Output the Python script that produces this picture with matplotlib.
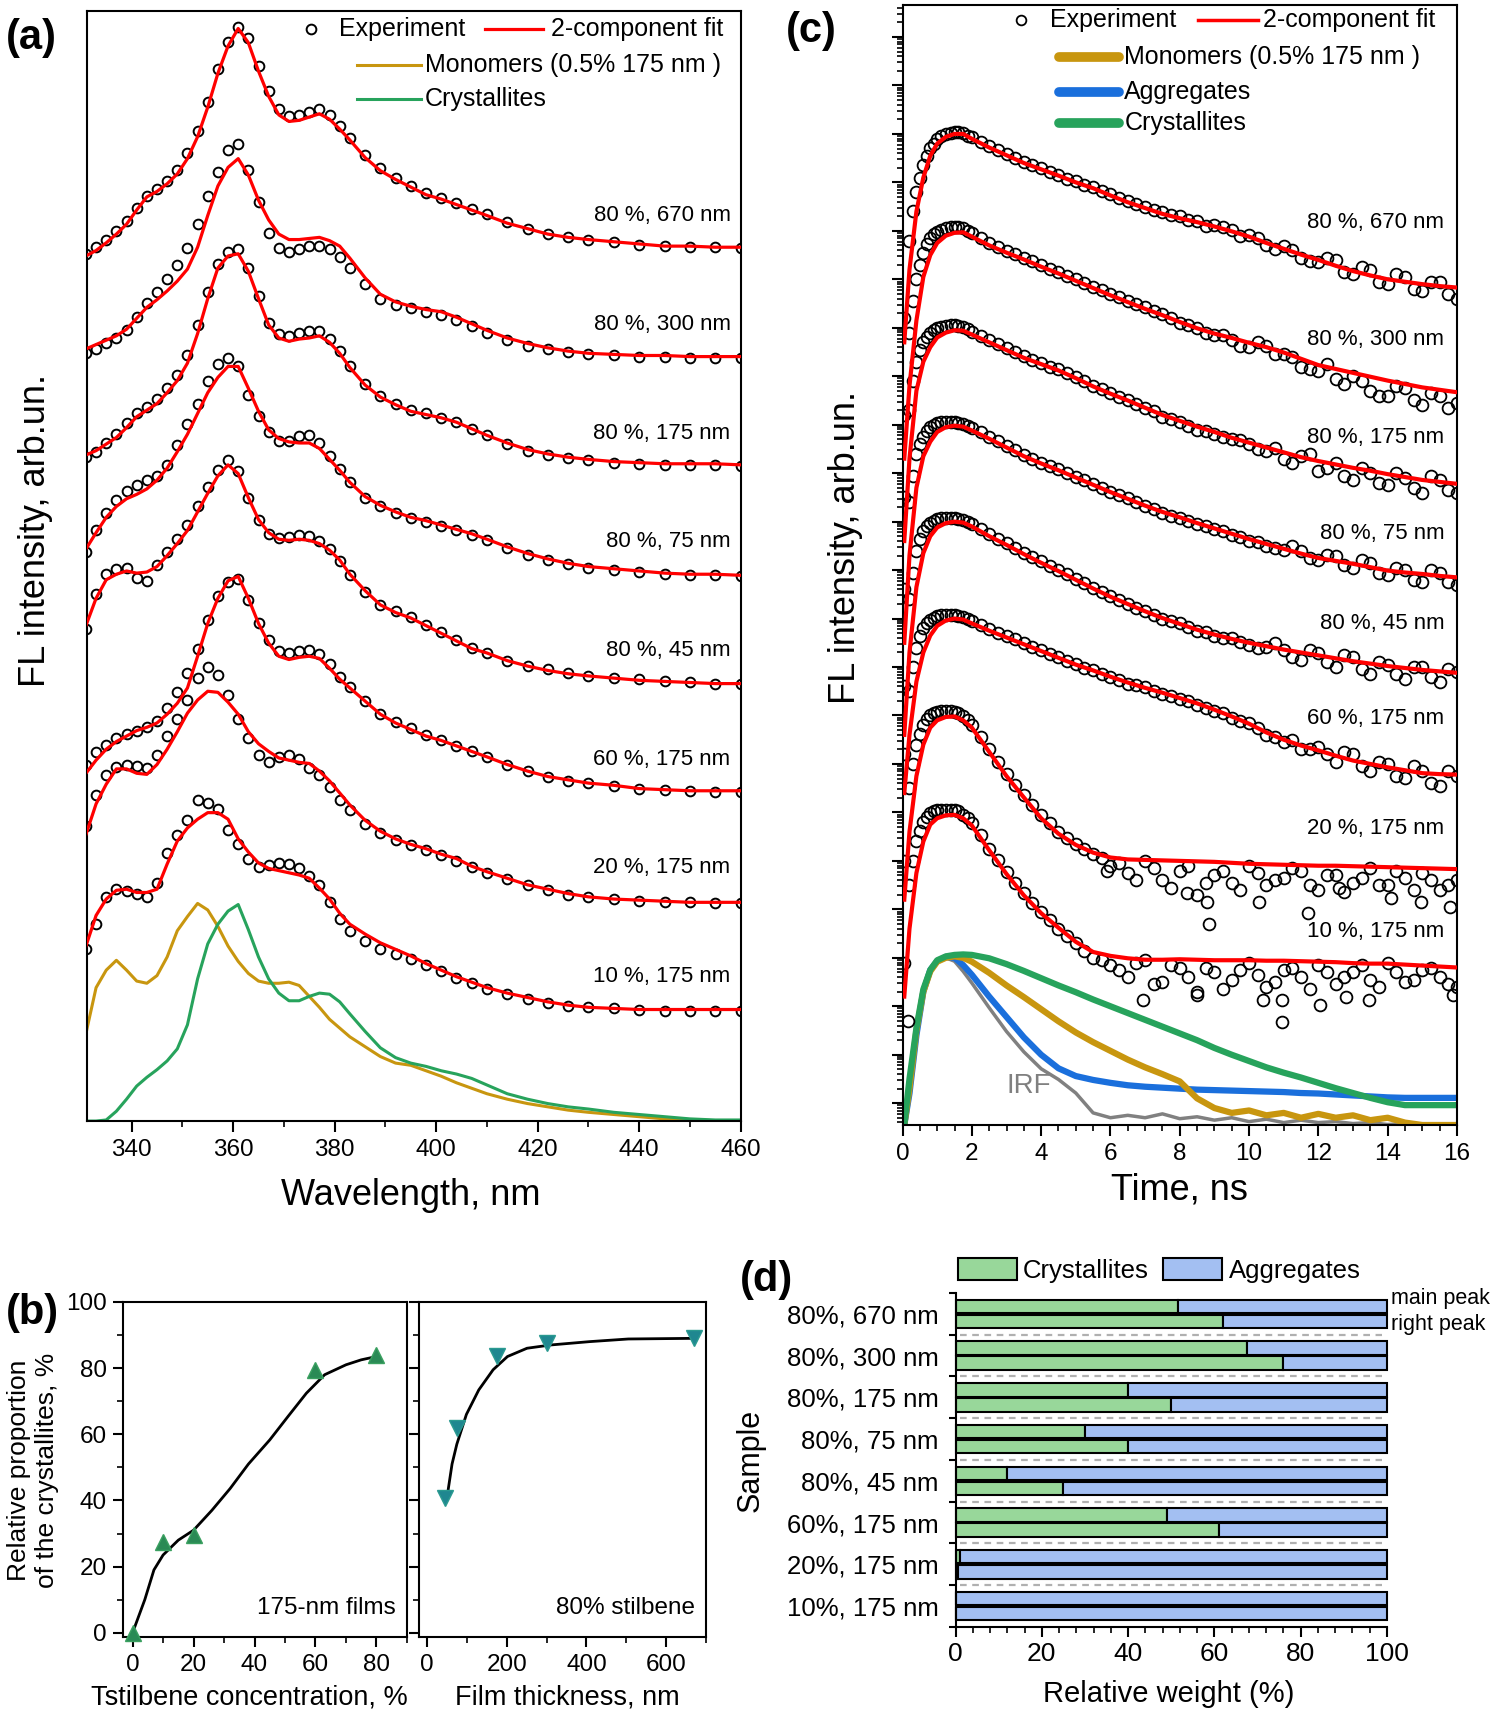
import numpy as np
import matplotlib
matplotlib.use('Agg')
import matplotlib.pyplot as plt
from matplotlib.ticker import MultipleLocator, LogLocator, NullFormatter, FixedLocator
from matplotlib.patches import Patch

plt.rcParams['font.family'] = ['Liberation Sans', 'DejaVu Sans']
plt.rcParams['axes.linewidth'] = 1.5

GOLD = '#c8960f'
GREEN = '#27a35c'
BLUE = '#1a6fdc'
GRAY = '#808080'
RED = '#ff0000'

# ---------------- (a) steady-state spectra (arb. units, stacked) ----------------
wl = [331, 333, 335, 337, 339, 341, 343, 345, 347, 349, 351, 353, 355, 357, 359, 361, 363, 365,
      367, 369, 371, 373, 375, 377, 379, 381, 383, 386, 389, 392, 395, 398, 401, 404, 407, 410,
      414, 418, 422, 426, 430, 435, 440, 445, 450, 455, 460]

exp_670 = [793, 799, 806, 814, 823, 835, 846, 852, 860, 870, 885, 905, 932, 962, 987, 1000, 990, 965,
           942, 925, 919, 920, 923, 925, 920, 910, 899, 883, 871, 862, 855, 849, 844, 839, 834, 829,
           822, 816, 811, 808, 806, 804, 801, 800, 799, 799, 798]
fit_670 = [791, 796, 803, 811, 820, 833, 845, 850, 857, 866, 880, 900, 927, 958, 983, 999, 986, 960,
           937, 920, 914, 915, 918, 921, 916, 907, 897, 881, 869, 861, 854, 847, 843, 838, 833, 828,
           821, 816, 811, 808, 806, 804, 802, 800, 800, 799, 799]
exp_300 = [702, 706, 711, 716, 723, 735, 748, 758, 770, 783, 798, 820, 846, 868, 888, 893, 870, 840,
           812, 798, 795, 797, 800, 800, 797, 790, 780, 765, 752, 746, 743, 740, 737, 732, 727, 721,
           714, 709, 706, 703, 701, 700, 699, 699, 698, 698, 698]
fit_300 = [706, 710, 714, 718, 724, 734, 744, 751, 759, 768, 779, 799, 828, 855, 872, 880, 865, 842,
           824, 811, 806, 806, 807, 808, 805, 800, 789, 771, 756, 749, 745, 742, 740, 735, 729, 723,
           716, 711, 707, 704, 702, 701, 700, 700, 699, 699, 699]
exp_175 = [607, 612, 620, 628, 638, 647, 653, 660, 670, 682, 700, 728, 758, 784, 795, 797, 780, 754,
           730, 720, 718, 721, 722, 722, 715, 704, 690, 674, 663, 656, 650, 647, 643, 639, 633, 627,
           619, 613, 609, 606, 604, 602, 601, 600, 600, 600, 599]
fit_175 = [609, 613, 619, 625, 634, 644, 650, 656, 666, 677, 693, 720, 752, 780, 791, 793, 777, 752,
           728, 716, 713, 715, 716, 718, 712, 702, 689, 673, 662, 655, 649, 646, 643, 639, 633, 627,
           620, 614, 610, 607, 605, 603, 602, 601, 601, 601, 600]
exp_75 = [520, 540, 556, 568, 576, 582, 586, 590, 600, 618, 637, 656, 677, 692, 698, 690, 664, 645,
          630, 622, 622, 626, 627, 620, 608, 596, 584, 570, 562, 556, 551, 548, 544, 540, 536, 531,
          524, 518, 513, 509, 506, 504, 502, 500, 499, 499, 498]
fit_75 = [523, 538, 552, 562, 569, 573, 578, 586, 597, 612, 628, 647, 666, 680, 690, 690, 670, 649,
          632, 624, 621, 620, 620, 615, 605, 595, 584, 571, 563, 557, 552, 549, 545, 541, 537, 532,
          525, 519, 514, 510, 507, 505, 503, 501, 500, 500, 499]
exp_45 = [450, 482, 500, 505, 506, 497, 494, 508, 520, 532, 545, 562, 580, 595, 604, 594, 570, 550,
          537, 533, 534, 536, 535, 530, 523, 512, 499, 484, 472, 466, 461, 454, 447, 440, 433, 428,
          421, 416, 413, 410, 407, 405, 404, 402, 401, 400, 400]
fit_45 = [453, 478, 495, 500, 503, 501, 502, 507, 517, 528, 540, 557, 574, 590, 600, 592, 570, 550,
          538, 532, 531, 532, 531, 528, 522, 513, 500, 485, 472, 465, 460, 453, 446, 439, 432, 428,
          421, 416, 412, 409, 407, 405, 403, 402, 401, 400, 400]
exp_60 = [326, 337, 344, 350, 354, 357, 360, 366, 378, 392, 410, 432, 458, 480, 493, 496, 476, 455,
          440, 430, 428, 430, 431, 427, 418, 406, 397, 384, 372, 365, 359, 353, 348, 343, 338, 333,
          326, 320, 315, 311, 309, 306, 304, 303, 302, 301, 301]
fit_60 = [318, 330, 340, 347, 352, 357, 360, 364, 372, 382, 396, 425, 455, 478, 494, 498, 478, 455,
          437, 425, 422, 424, 425, 423, 414, 404, 396, 384, 372, 364, 358, 352, 348, 343, 338, 333,
          326, 320, 315, 312, 309, 307, 304, 303, 302, 302, 302]
exp_20 = [270, 298, 316, 324, 326, 325, 323, 335, 352, 368, 385, 405, 415, 408, 390, 368, 350, 335,
          328, 333, 335, 331, 323, 316, 305, 294, 284, 272, 263, 257, 252, 248, 243, 238, 232, 227,
          221, 216, 211, 207, 205, 203, 201, 200, 200, 199, 199]
fit_20 = [262, 290, 308, 322, 322, 318, 317, 326, 340, 356, 373, 385, 393, 392, 383, 372, 356, 345,
          338, 332, 330, 328, 327, 320, 311, 300, 289, 275, 265, 258, 253, 249, 244, 240, 233, 228,
          222, 216, 212, 208, 205, 203, 202, 201, 200, 200, 200]
exp_10 = [157, 180, 205, 212, 210, 208, 205, 218, 245, 262, 275, 294, 291, 285, 266, 253, 240, 232,
          234, 236, 235, 231, 224, 216, 200, 185, 174, 165, 157, 153, 148, 143, 137, 131, 126, 121,
          116, 112, 108, 105, 104, 103, 102, 101, 101, 101, 101]
fit_10 = [160, 188, 203, 211, 212, 209, 209, 212, 235, 256, 268, 276, 282, 282, 276, 258, 246, 236,
          231, 229, 227, 225, 222, 213, 203, 190, 180, 171, 163, 157, 151, 144, 138, 132, 127, 122,
          117, 113, 109, 106, 104, 103, 102, 102, 102, 102, 102]
monomers = [80, 122, 138, 147, 138, 128, 126, 133, 150, 174, 187, 199, 193, 178, 160, 146, 135, 128,
            126, 126, 127, 124, 114, 104, 93, 85, 77, 68, 59, 53, 51, 46, 41, 35, 30, 25,
            20, 16, 13, 10, 8, 6, 4, 2, 1, 0, 0]
crystallites = [0, 0, 1, 9, 20, 32, 40, 47, 55, 66, 88, 130, 162, 180, 192, 198, 175, 150,
                130, 117, 110, 110, 114, 117, 116, 109, 98, 82, 67, 58, 53, 50, 46, 43, 39, 33,
                25, 20, 16, 13, 11, 8, 6, 4, 2, 1, 1]

spec_labels = ['80 %, 670 nm', '80 %, 300 nm', '80 %, 175 nm', '80 %, 75 nm',
               '80 %, 45 nm', '60 %, 175 nm', '20 %, 175 nm', '10 %, 175 nm']
spec_exp = [exp_670, exp_300, exp_175, exp_75, exp_45, exp_60, exp_20, exp_10]
spec_fit = [fit_670, fit_300, fit_175, fit_75, fit_45, fit_60, fit_20, fit_10]

# ---------------- (c) decays, log10 of intensity (stacked) ----------------
t = [0.05, 0.2, 0.4, 0.6, 0.8, 1.0, 1.25, 1.5, 1.75, 2.0, 2.5, 3.0, 3.5, 4.0, 4.5, 5.0, 5.5, 6.0,
     6.5, 7.0, 7.5, 8.0, 8.5, 9.0, 9.5, 10.0, 10.5, 11.0, 11.5, 12.0, 12.5, 13.0, 13.5, 14.0,
     14.5, 15.0, 15.5, 16.0]
# experimental points read in between the main grid
t_mid = [0.3, 0.5, 0.7, 0.9, 1.1, 1.4, 1.6, 1.9, 2.25, 2.75, 3.25, 3.75, 4.25, 4.75, 5.25, 5.75,
         6.25, 6.75, 7.25, 7.75, 8.25, 8.75, 9.25, 9.75, 10.25, 10.75, 11.25, 11.75, 12.25, 12.75,
         13.25, 13.75, 14.25, 14.75, 15.25, 15.75]

dexp_670 = [16.2, 17.8, 18.8, 19.35, 19.7, 19.9, 20.0, 20.03, 20.02, 19.93, 19.75, 19.58, 19.43,
            19.29, 19.16, 19.02, 18.9, 18.76, 18.62, 18.5, 18.38, 18.3, 18.2, 18.12, 18.02, 17.92,
            17.7, 17.68, 17.45, 17.35, 17.4, 17.1, 17.2, 16.9, 17.05, 16.75, 16.95, 16.6]
mexp_670 = [18.4, 19.1, 19.55, 19.8, 19.95, 20.02, 20.03, 19.96, 19.83, 19.66, 19.5, 19.35, 19.22,
            19.08, 18.95, 18.82, 18.68, 18.55, 18.43, 18.32, 18.22, 18.1, 18.08, 17.9, 17.85,
            17.62, 17.6, 17.38, 17.45, 17.15, 17.25, 16.95, 17.1, 16.8, 16.95, 16.7]
dfit_670 = [15.7, 17.2, 18.4, 19.1, 19.55, 19.8, 19.94, 20.0, 20.0, 19.9, 19.72, 19.56, 19.4,
            19.27, 19.14, 19.0, 18.88, 18.73, 18.59, 18.47, 18.35, 18.26, 18.18, 18.09, 17.99,
            17.88, 17.75, 17.63, 17.51, 17.4, 17.28, 17.17, 17.08, 17.0, 16.95, 16.9, 16.86, 16.83]
dexp_300 = [14.2, 15.9, 17.0, 17.55, 17.85, 17.98, 18.05, 18.07, 18.05, 17.95, 17.75, 17.59, 17.45,
            17.3, 17.15, 17.0, 16.85, 16.7, 16.56, 16.42, 16.28, 16.1, 16.0, 15.85, 15.75, 15.6,
            15.62, 15.45, 15.2, 15.1, 14.95, 15.0, 14.7, 14.6, 14.75, 14.4, 14.6, 14.45]
mexp_300 = [16.55, 17.3, 17.72, 17.93, 18.02, 18.07, 18.07, 17.99, 17.85, 17.67, 17.52, 17.37,
            17.22, 17.07, 16.92, 16.77, 16.63, 16.49, 16.35, 16.2, 16.05, 15.9, 15.85, 15.62, 15.7,
            15.45, 15.4, 15.15, 15.25, 14.85, 14.9, 14.6, 14.8, 14.5, 14.65, 14.35]
dfit_300 = [13.3, 14.8, 16.15, 17.05, 17.5, 17.75, 17.9, 17.96, 17.97, 17.88, 17.7, 17.55, 17.41,
            17.26, 17.12, 16.97, 16.82, 16.67, 16.53, 16.39, 16.26, 16.12, 15.99, 15.88, 15.79,
            15.69, 15.6, 15.49, 15.36, 15.23, 15.15, 15.07, 14.99, 14.91, 14.84, 14.77, 14.72, 14.67]
dexp_175 = [12.5, 14.3, 15.3, 15.7, 15.9, 16.0, 16.04, 16.05, 16.02, 15.92, 15.74, 15.58, 15.41,
            15.28, 15.14, 14.98, 14.8, 14.66, 14.5, 14.35, 14.15, 14.05, 13.9, 13.8, 13.7, 13.6,
            13.45, 13.3, 13.35, 13.05, 13.2, 12.85, 13.0, 12.75, 12.9, 12.6, 12.85, 12.6]
mexp_175 = [14.9, 15.55, 15.82, 15.96, 16.02, 16.05, 16.04, 15.97, 15.83, 15.66, 15.5, 15.34, 15.2,
            15.06, 14.9, 14.73, 14.58, 14.42, 14.28, 14.12, 13.97, 13.88, 13.75, 13.68, 13.5,
            13.52, 13.2, 13.4, 13.1, 12.95, 13.1, 12.8, 13.0, 12.7, 12.95, 12.65]
dfit_175 = [11.6, 13.3, 14.7, 15.3, 15.6, 15.8, 15.9, 15.95, 15.94, 15.86, 15.7, 15.54, 15.38,
            15.25, 15.12, 14.96, 14.79, 14.64, 14.5, 14.35, 14.2, 14.08, 13.96, 13.85, 13.73,
            13.63, 13.53, 13.43, 13.33, 13.25, 13.18, 13.11, 13.05, 12.98, 12.92, 12.86, 12.82, 12.78]
dexp_75 = [10.6, 12.4, 13.4, 13.75, 13.95, 14.03, 14.06, 14.05, 14.02, 13.93, 13.75, 13.56, 13.38,
           13.22, 13.08, 12.93, 12.78, 12.62, 12.48, 12.33, 12.18, 12.07, 11.95, 11.85, 11.72, 11.6,
           11.5, 11.42, 11.4, 11.2, 11.3, 11.05, 11.15, 10.9, 11.0, 10.75, 10.95, 10.7]
mexp_75 = [12.95, 13.6, 13.87, 14.0, 14.05, 14.06, 14.04, 13.97, 13.84, 13.66, 13.47, 13.3, 13.15,
           13.0, 12.85, 12.7, 12.55, 12.4, 12.26, 12.12, 12.02, 11.9, 11.8, 11.68, 11.58, 11.45,
           11.5, 11.25, 11.32, 11.1, 11.2, 10.95, 11.05, 10.8, 11.0, 10.75]
dfit_75 = [9.5, 11.3, 12.7, 13.35, 13.65, 13.85, 13.95, 13.98, 13.96, 13.88, 13.71, 13.53, 13.35,
           13.2, 13.06, 12.91, 12.76, 12.61, 12.47, 12.33, 12.2, 12.09, 11.97, 11.86, 11.75, 11.64,
           11.54, 11.44, 11.34, 11.25, 11.19, 11.13, 11.06, 10.99, 10.95, 10.92, 10.88, 10.85]
dexp_45 = [8.6, 10.4, 11.4, 11.8, 11.98, 12.05, 12.08, 12.07, 12.04, 11.95, 11.74, 11.55, 11.36,
           11.18, 11.0, 10.82, 10.64, 10.46, 10.3, 10.15, 10.0, 9.9, 9.75, 9.65, 9.6, 9.45, 9.42,
           9.35, 9.15, 9.28, 9.0, 9.2, 8.85, 9.05, 8.75, 9.0, 8.7, 8.9]
mexp_45 = [10.95, 11.65, 11.9, 12.02, 12.07, 12.08, 12.06, 11.99, 11.85, 11.65, 11.45, 11.27,
           11.09, 10.91, 10.73, 10.55, 10.38, 10.22, 10.08, 9.95, 9.82, 9.72, 9.6, 9.52, 9.4, 9.5,
           9.2, 9.35, 9.1, 9.25, 8.95, 9.1, 8.85, 9.0, 8.8, 8.95]
dfit_45 = [7.6, 9.3, 10.65, 11.35, 11.7, 11.88, 11.97, 12.0, 11.98, 11.9, 11.7, 11.52, 11.33,
           11.15, 10.98, 10.8, 10.62, 10.45, 10.3, 10.15, 10.01, 9.89, 9.77, 9.67, 9.58, 9.5, 9.43,
           9.36, 9.3, 9.24, 9.18, 9.12, 9.07, 9.02, 8.98, 8.94, 8.91, 8.88]
dexp_60 = [7.2, 8.5, 9.4, 9.8, 9.98, 10.05, 10.08, 10.07, 10.04, 9.95, 9.78, 9.64, 9.5, 9.35, 9.2,
           9.06, 8.93, 8.8, 8.66, 8.58, 8.45, 8.35, 8.22, 8.1, 7.95, 7.85, 7.6, 7.45, 7.3, 7.35,
           7.05, 7.2, 6.85, 7.0, 6.7, 6.85, 6.55, 6.75]
mexp_60 = [9.0, 9.63, 9.9, 10.02, 10.07, 10.08, 10.06, 9.99, 9.86, 9.71, 9.57, 9.42, 9.27, 9.13,
           8.99, 8.86, 8.73, 8.62, 8.5, 8.4, 8.3, 8.15, 8.05, 7.88, 7.75, 7.55, 7.5, 7.3, 7.2, 7.25,
           6.95, 7.05, 6.75, 6.95, 6.6, 6.85]
dfit_60 = [6.4, 7.6, 8.7, 9.3, 9.65, 9.85, 9.96, 10.0, 9.98, 9.9, 9.75, 9.61, 9.47, 9.33, 9.19,
           9.05, 8.93, 8.8, 8.68, 8.57, 8.47, 8.36, 8.25, 8.12, 7.98, 7.83, 7.65, 7.5, 7.38, 7.28,
           7.17, 7.07, 7.0, 6.93, 6.87, 6.81, 6.79, 6.78]
dexp_20 = [5.0, 6.5, 7.4, 7.8, 8.0, 8.07, 8.1, 8.08, 7.98, 7.8, 7.3, 6.8, 6.35, 5.95, 5.6, 5.35,
           5.15, 4.9, 4.75, 5.0, 4.6, 4.8, 4.3, 4.7, 4.55, 4.9, 4.5, 4.65, 4.8, 4.4, 4.7, 4.55,
           4.85, 4.5, 4.65, 4.75, 4.4, 4.6]
mexp_20 = [7.0, 7.62, 7.92, 8.05, 8.09, 8.1, 8.06, 7.9, 7.56, 7.05, 6.57, 6.15, 5.78, 5.48, 5.25,
           5.05, 4.95, 4.6, 4.85, 4.45, 4.9, 4.55, 4.8, 4.4, 4.75, 4.6, 4.85, 4.5, 4.7, 4.35, 4.65,
           4.5, 4.8, 4.4, 4.6, 4.5]
dfit_20 = [4.2, 5.6, 6.75, 7.4, 7.75, 7.9, 7.97, 7.98, 7.9, 7.75, 7.25, 6.75, 6.31, 5.88, 5.56,
           5.33, 5.17, 5.07, 5.03, 5.02, 5.01, 5.0, 4.99, 4.98, 4.96, 4.94, 4.93, 4.92, 4.91, 4.9,
           4.9, 4.89, 4.88, 4.87, 4.86, 4.85, 4.84, 4.83]
dexp_10 = [2.9, 4.5, 5.4, 5.8, 5.98, 6.04, 6.06, 6.04, 5.95, 5.78, 5.25, 4.78, 4.33, 3.95, 3.6,
           3.3, 3.0, 2.85, 2.6, 2.95, 2.5, 2.8, 2.3, 2.7, 2.55, 2.9, 2.4, 2.75, 2.6, 2.85, 2.45,
           2.7, 2.55, 2.9, 2.5, 2.75, 2.6, 2.4]
mexp_10 = [5.0, 5.62, 5.9, 6.02, 6.06, 6.06, 6.02, 5.88, 5.53, 5.02, 4.55, 4.14, 3.77, 3.45, 3.15,
           2.95, 2.75, 2.9, 2.45, 2.85, 2.6, 2.8, 2.35, 2.75, 2.65, 2.5, 2.8, 2.35, 2.7, 2.6, 2.85,
           2.4, 2.7, 2.55, 2.8, 2.45]
dfit_10 = [2.2, 3.6, 4.75, 5.4, 5.75, 5.88, 5.94, 5.95, 5.88, 5.73, 5.22, 4.73, 4.29, 3.92, 3.62,
           3.33, 3.12, 3.04, 2.99, 2.96, 2.96, 2.97, 2.96, 2.95, 2.95, 2.95, 2.94, 2.94, 2.93, 2.92,
           2.91, 2.89, 2.88, 2.88, 2.86, 2.84, 2.82, 2.8]

# scattered outlier circles in the noisy tails
out20_t = [5.9, 8.2, 8.8, 8.85, 10.3, 11.7, 12.6, 14.1, 14.95, 15.8]
out20_y = [4.79, 4.34, 4.15, 3.7, 4.15, 3.93, 4.45, 4.23, 4.15, 4.04]
out10_t = [0.15, 6.95, 8.5, 10.4, 10.95, 10.95, 12.05, 12.8, 13.45, 15.9]
out10_y = [1.7, 2.13, 2.24, 2.13, 1.68, 2.13, 2.02, 2.2, 2.13, 2.24]

irf = [-0.45, 0.4, 1.5, 2.25, 2.7, 2.92, 3.0, 2.93, 2.72, 2.48, 1.97, 1.48, 1.06, 0.71, 0.49,
       0.21, -0.2, -0.3, -0.25, -0.3, -0.22, -0.32, -0.28, -0.35, -0.3, -0.38, -0.33, -0.4,
       -0.35, -0.4, -0.38, -0.42, -0.4, -0.44, -0.42, -0.45, -0.43, -0.45]
aggr_decay = [-0.45, 0.2, 1.4, 2.3, 2.75, 2.93, 3.02, 3.0, 2.85, 2.65, 2.2, 1.78, 1.36, 1.0, 0.72,
              0.56, 0.48, 0.42, 0.37, 0.34, 0.32, 0.3, 0.28, 0.27, 0.26, 0.25, 0.24, 0.23, 0.21,
              0.2, 0.18, 0.16, 0.14, 0.12, 0.11, 0.11, 0.11, 0.11]
mono_decay = [-0.45, 0.3, 1.5, 2.3, 2.72, 2.92, 3.0, 3.03, 3.0, 2.92, 2.69, 2.43, 2.19, 1.94, 1.69,
              1.46, 1.26, 1.08, 0.9, 0.74, 0.6, 0.45, 0.1, -0.1, -0.2, -0.15, -0.25, -0.2, -0.3,
              -0.22, -0.3, -0.25, -0.35, -0.3, -0.4, -0.45, -0.45, -0.45]
cryst_decay = [-0.45, 0.5, 1.55, 2.35, 2.75, 2.95, 3.03, 3.06, 3.07, 3.06, 2.99, 2.87, 2.73, 2.58,
               2.43, 2.29, 2.14, 2.0, 1.86, 1.72, 1.58, 1.44, 1.3, 1.14, 1.0, 0.87, 0.74, 0.63,
               0.53, 0.42, 0.31, 0.21, 0.11, 0.02, -0.04, -0.04, -0.04, -0.04]

dec_exp = [dexp_670, dexp_300, dexp_175, dexp_75, dexp_45, dexp_60, dexp_20, dexp_10]
dec_mid = [mexp_670, mexp_300, mexp_175, mexp_75, mexp_45, mexp_60, mexp_20, mexp_10]
dec_fit = [dfit_670, dfit_300, dfit_175, dfit_75, dfit_45, dfit_60, dfit_20, dfit_10]

# ---------------- (b) crystallite proportion ----------------
conc = [0, 10, 20, 60, 80]
conc_cryst = [0, 27.5, 29.5, 79.5, 84]
conc_curve_x = [0, 4, 7, 10, 15, 20, 26, 32, 38, 45, 51, 57, 63, 70, 75, 80]
conc_curve_y = [0, 10, 19, 23.5, 28, 31, 37, 43.6, 51, 58.3, 65.4, 72.4, 78, 81, 82.5, 83.5]
thick = [45, 75, 175, 300, 670]
thick_cryst = [40.6, 61.8, 83.7, 87.6, 89.1]
thick_curve_x = [50, 63, 75, 99, 130, 166, 202, 251, 311, 408, 505, 675]
thick_curve_y = [40.6, 51, 57, 66, 73.4, 79.5, 83.5, 86, 87, 88, 88.8, 89]

# ---------------- (d) relative weights ----------------
samples = ['80%, 670 nm', '80%, 300 nm', '80%, 175 nm', '80%, 75 nm',
           '80%, 45 nm', '60%, 175 nm', '20%, 175 nm', '10%, 175 nm']
main_peak_cryst = [51.5, 67.5, 40, 30, 12, 49, 1, 0]
right_peak_cryst = [62, 76, 50, 40, 25, 61, 0.5, 0]

fig = plt.figure(figsize=(15, 17.16), dpi=100)


def style_ticks(ax, major=8, minor=4):
    ax.tick_params(which='major', direction='out', length=major, width=1.5, labelsize=17.5, pad=5)
    ax.tick_params(which='minor', direction='out', length=minor, width=1.2)


# ===== panel (a) =====
ax_a = fig.add_axes([0.0583, 0.3467, 0.4355, 0.6469])
for e, f in zip(spec_exp, spec_fit):
    ax_a.plot(wl, e, 'o', mfc='none', mec='black', ms=7, mew=1.4, zorder=2)
    ax_a.plot(wl, f, color=RED, lw=2.3, zorder=3)
ax_a.plot(wl, monomers, color=GOLD, lw=2.2)
ax_a.plot(wl, crystallites, color=GREEN, lw=2.2)
label_y = [828, 728, 629, 530, 430, 331, 232, 132]
for lab, yy in zip(spec_labels, label_y):
    ax_a.text(458, yy, lab, ha='right', va='center', fontsize=16)
ax_a.set_xlim(331.3, 460)
ax_a.set_ylim(0, 1015)
ax_a.set_yticks([])
ax_a.xaxis.set_major_locator(MultipleLocator(20))
ax_a.xaxis.set_minor_locator(MultipleLocator(10))
style_ticks(ax_a)

# legend (a)
tr = ax_a.transAxes
ax_a.plot([0.342], [0.984], 'o', mfc='none', mec='black', ms=7, mew=1.4, transform=tr, clip_on=False)
ax_a.text(0.385, 0.984, 'Experiment', transform=tr, fontsize=18, va='center')
ax_a.plot([0.608, 0.698], [0.984, 0.984], color=RED, lw=2.3, transform=tr)
ax_a.text(0.709, 0.984, '2-component fit', transform=tr, fontsize=18, va='center')
ax_a.plot([0.412, 0.511], [0.951, 0.951], color=GOLD, lw=2.2, transform=tr)
ax_a.text(0.516, 0.951, 'Monomers (0.5% 175 nm )', transform=tr, fontsize=18, va='center')
ax_a.plot([0.412, 0.511], [0.921, 0.921], color=GREEN, lw=2.2, transform=tr)
ax_a.text(0.516, 0.921, 'Crystallites', transform=tr, fontsize=18, va='center')

# ===== panel (c) =====
ax_c = fig.add_axes([0.6017, 0.3444, 0.3696, 0.6524])
ax_c.set_yscale('log')
ax_c.plot(t, 10 ** np.array(irf), color=GRAY, lw=2.5)
ax_c.plot(t, 10 ** np.array(aggr_decay), color=BLUE, lw=4.5)
ax_c.plot(t, 10 ** np.array(mono_decay), color=GOLD, lw=4.5)
ax_c.plot(t, 10 ** np.array(cryst_decay), color=GREEN, lw=4.5)
for e, m, f in zip(dec_exp, dec_mid, dec_fit):
    ax_c.plot(t, 10 ** np.array(e), 'o', mfc='none', mec='black', ms=8.5, mew=1.3, zorder=3)
    ax_c.plot(t_mid, 10 ** np.array(m), 'o', mfc='none', mec='black', ms=8.5, mew=1.3, zorder=3)
    ax_c.plot(t, 10 ** np.array(f), color=RED, lw=3, zorder=4)
ax_c.plot(out20_t, 10 ** np.array(out20_y), 'o', mfc='none', mec='black', ms=8.5, mew=1.3)
ax_c.plot(out10_t, 10 ** np.array(out10_y), 'o', mfc='none', mec='black', ms=8.5, mew=1.3)
ax_c.text(3.0, 10 ** 0.35, 'IRF', color=GRAY, fontsize=20, va='center')

ax_c.set_xlim(0, 16)
ax_c.set_ylim(10 ** -0.45, 10 ** 22.65)
ax_c.xaxis.set_major_locator(MultipleLocator(2))
ax_c.xaxis.set_minor_locator(MultipleLocator(0.5))
ax_c.yaxis.set_major_locator(LogLocator(base=10, numticks=40))
ax_c.yaxis.set_minor_locator(LogLocator(base=10, subs=np.arange(2, 10), numticks=40))
ax_c.yaxis.set_major_formatter(NullFormatter())
ax_c.yaxis.set_minor_formatter(NullFormatter())
style_ticks(ax_c)

dec_label_y = [0.806, 0.702, 0.614, 0.528, 0.448, 0.363, 0.265, 0.173]
for lab, yy in zip(spec_labels, dec_label_y):
    ax_c.text(0.977, yy, lab, transform=ax_c.transAxes, ha='right', va='center', fontsize=16)

trc = ax_c.transAxes
ax_c.plot([0.213], [0.987], 'o', mfc='none', mec='black', ms=7, mew=1.3, transform=trc, clip_on=False)
ax_c.text(0.266, 0.987, 'Experiment', transform=trc, fontsize=18, va='center')
ax_c.plot([0.533, 0.641], [0.987, 0.987], color=RED, lw=2.5, transform=trc)
ax_c.text(0.651, 0.987, '2-component fit', transform=trc, fontsize=18, va='center')
for yy, col, lab in [(0.954, GOLD, 'Monomers (0.5% 175 nm )'),
                     (0.923, BLUE, 'Aggregates'),
                     (0.895, GREEN, 'Crystallites')]:
    ax_c.plot([0.283, 0.39], [yy, yy], color=col, lw=7, solid_capstyle='round', transform=trc)
    ax_c.text(0.400, yy, lab, transform=trc, fontsize=18, va='center')

# ===== panel (b) =====
ax_b1 = fig.add_axes([0.0823, 0.046, 0.189, 0.1953])
ax_b1.plot(conc_curve_x, conc_curve_y, color='black', lw=2)
ax_b1.plot(conc, conc_cryst, '^', color='#2a8a55', mec='#3aa060', ms=11, clip_on=False, zorder=3)
ax_b1.set_xlim(-3, 90)
ax_b1.set_ylim(-1.3, 100)
ax_b1.xaxis.set_major_locator(MultipleLocator(20))
ax_b1.xaxis.set_minor_locator(MultipleLocator(10))
ax_b1.yaxis.set_major_locator(MultipleLocator(20))
ax_b1.yaxis.set_minor_locator(MultipleLocator(10))
style_ticks(ax_b1, 7, 4)
ax_b1.text(0.96, 0.07, '175-nm films', transform=ax_b1.transAxes, ha='right', fontsize=17.5)

ax_b2 = fig.add_axes([0.2793, 0.046, 0.1914, 0.1953])
ax_b2.plot(thick_curve_x, thick_curve_y, color='black', lw=2)
ax_b2.plot(thick, thick_cryst, 'v', color='#1f8790', mec='#2a9a90', ms=11, clip_on=False, zorder=3)
ax_b2.set_xlim(-20, 700)
ax_b2.set_ylim(-1.3, 100)
ax_b2.xaxis.set_major_locator(MultipleLocator(200))
ax_b2.xaxis.set_minor_locator(MultipleLocator(100))
ax_b2.yaxis.set_major_locator(MultipleLocator(20))
ax_b2.yaxis.set_minor_locator(MultipleLocator(10))
ax_b2.set_yticklabels([])
style_ticks(ax_b2, 7, 4)
ax_b2.text(0.96, 0.07, '80% stilbene', transform=ax_b2.transAxes, ha='right', fontsize=17.5)

# ===== panel (d) =====
LG = '#98d79a'
LB = '#a3bff2'
ax_d = fig.add_axes([0.637, 0.0519, 0.2875, 0.1946])
centers = 7.5 - np.arange(len(samples))
mp = np.array(main_peak_cryst)
rp = np.array(right_peak_cryst)
for yc, vals in [(centers + 0.18, mp), (centers - 0.18, rp)]:
    ax_d.barh(yc, vals, height=0.32, color=LG, edgecolor='black', lw=1.5, clip_on=False)
    ax_d.barh(yc, 100 - vals, left=vals, height=0.32, color=LB, edgecolor='black', lw=1.5,
              clip_on=False)
for k in range(1, 8):
    ax_d.plot([1, 99], [k, k], color='#b0b0b0', ls=(0, (3, 2.5)), lw=1.6, zorder=0)
ax_d.set_xlim(0, 100)
ax_d.set_ylim(0, 8)
ax_d.spines['top'].set_visible(False)
ax_d.spines['right'].set_visible(False)
ax_d.set_yticks(centers)
ax_d.set_yticklabels(samples)
ax_d.yaxis.set_minor_locator(FixedLocator(np.arange(0, 9)))
ax_d.xaxis.set_major_locator(MultipleLocator(20))
ax_d.xaxis.set_minor_locator(MultipleLocator(4))
ax_d.tick_params(axis='y', which='major', length=0, labelsize=18.5, pad=12)
ax_d.tick_params(axis='y', which='minor', direction='out', length=5, width=1.5)
ax_d.tick_params(axis='x', which='major', direction='out', length=7, width=1.5, labelsize=19)
ax_d.tick_params(axis='x', which='minor', direction='out', length=4, width=1.2)
ax_d.text(101, 7.88, 'main peak', fontsize=15.5, va='center')
ax_d.text(101, 7.24, 'right peak', fontsize=15.5, va='center')
leg = ax_d.legend(handles=[Patch(facecolor=LG, edgecolor='black', lw=1.5, label='Crystallites'),
                           Patch(facecolor=LB, edgecolor='black', lw=1.5, label='Aggregates')],
                  ncol=2, loc='center left', bbox_to_anchor=(0.005, 1.068), frameon=False,
                  fontsize=18.5, handlelength=2.3, handleheight=0.95, handletextpad=0.25,
                  columnspacing=0.55, borderpad=0, borderaxespad=0)

# ===== labels =====
fig.text(0.024, 0.691, 'FL intensity, arb.un.', rotation=90, ha='center', va='center', fontsize=26)
fig.text(0.274, 0.3036, 'Wavelength, nm', ha='center', va='center', fontsize=26)
fig.text(0.564, 0.681, 'FL intensity, arb.un.', rotation=90, ha='center', va='center', fontsize=26)
fig.text(0.786, 0.3065, 'Time, ns', ha='center', va='center', fontsize=26)
fig.text(0.022, 0.1434, 'Relative proportion\nof the crystallites, %', rotation=90, ha='center',
         va='center', fontsize=19, linespacing=1.25)
fig.text(0.1663, 0.0105, 'Tstilbene concentration, %', ha='center', va='center', fontsize=19.5)
fig.text(0.378, 0.0105, 'Film thickness, nm', ha='center', va='center', fontsize=19.5)
fig.text(0.5003, 0.149, 'Sample', rotation=90, ha='center', va='center', fontsize=22)
fig.text(0.779, 0.0131, 'Relative weight (%)', ha='center', va='center', fontsize=21)

fig.text(0.004, 0.978, '(a)', fontsize=30, fontweight='bold', va='center')
fig.text(0.524, 0.982, '(c)', fontsize=30, fontweight='bold', va='center')
fig.text(0.004, 0.235, '(b)', fontsize=30, fontweight='bold', va='center')
fig.text(0.493, 0.254, '(d)', fontsize=30, fontweight='bold', va='center')

fig.savefig('out.png', dpi=100)
